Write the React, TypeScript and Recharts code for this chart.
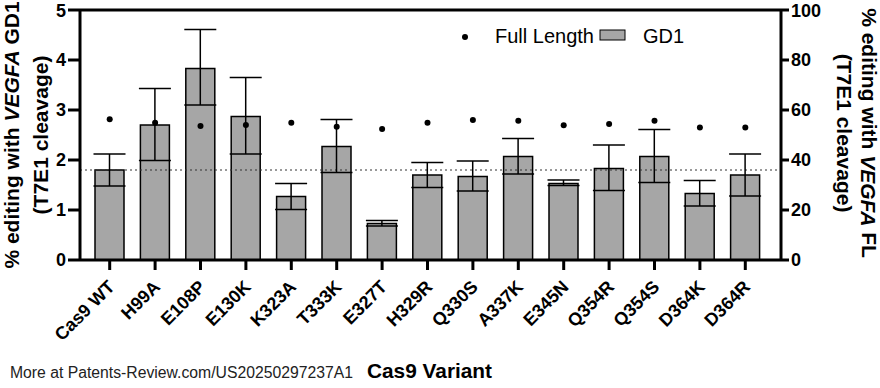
import React from 'react';
import { ComposedChart, Bar, Scatter, XAxis, YAxis, ErrorBar, ReferenceLine } from 'recharts';

const categories = ['Cas9 WT', 'H99A', 'E108P', 'E130K', 'K323A', 'T333K', 'E327T', 'H329R', 'Q330S', 'A337K', 'E345N', 'Q354R', 'Q354S', 'D364K', 'D364R'];
const gd1Mean = [1.8, 2.7, 3.83, 2.87, 1.27, 2.27, 0.73, 1.7, 1.67, 2.07, 1.53, 1.83, 2.07, 1.33, 1.7];
const gd1Low = [1.48, 1.99, 3.1, 2.12, 1.01, 1.75, 0.68, 1.45, 1.38, 1.72, 1.49, 1.39, 1.55, 1.08, 1.28];
const gd1High = [2.12, 3.43, 4.61, 3.65, 1.53, 2.81, 0.79, 1.95, 1.98, 2.43, 1.6, 2.3, 2.61, 1.59, 2.12];
const fullLength = [56.3, 54.9, 53.6, 54, 54.9, 53.3, 52.4, 54.9, 56, 55.7, 53.9, 54.4, 55.7, 53, 53];
const leftTicks = [0, 1, 2, 3, 4, 5];
const rightTicks = [0, 20, 40, 60, 80, 100];
const wtReference = 1.8;

const data = categories.map((name, i) => ({
  name,
  gd1: gd1Mean[i],
  err: [gd1Mean[i] - gd1Low[i], gd1High[i] - gd1Mean[i]],
  fl: fullLength[i],
}));

const FONT = "Arial, 'Liberation Sans', Helvetica, sans-serif";
const BAR_FILL = '#a6a6a6';

const XTick = (props: any) => {
  const { x, y, payload } = props;
  const ax = x + 6;
  const ay = y + 16;
  return (
    <text
      x={ax}
      y={ay}
      textAnchor="end"
      transform={`rotate(-45, ${ax}, ${ay})`}
      fontFamily={FONT}
      fontWeight="bold"
      fontSize={18}
      fill="#000"
    >
      {payload.value}
    </text>
  );
};

const Dot = (props: any) => {
  const { cx, cy } = props;
  return <circle cx={cx} cy={cy} r={3} fill="#000" />;
};

export default function App() {
  return (
    <div style={{ position: 'absolute', left: 0, top: 0, width: 880, height: 388, background: '#fff' }}>
      <ComposedChart
        width={880}
        height={388}
        data={data}
        margin={{ top: 10, right: 0, bottom: 0, left: 0 }}
      >
        <XAxis
          dataKey="name"
          height={128}
          padding={{ left: 7, right: 13 }}
          axisLine={{ stroke: '#000', strokeWidth: 3 }}
          tickLine={{ stroke: '#000', strokeWidth: 3 }}
          tickSize={10}
          interval={0}
          tick={<XTick />}
        />
        <YAxis
          yAxisId="left"
          domain={[0, 5]}
          ticks={leftTicks}
          width={80}
          axisLine={{ stroke: '#000', strokeWidth: 3 }}
          tickLine={{ stroke: '#000', strokeWidth: 3 }}
          tickSize={12}
          tick={{ fontFamily: FONT, fontWeight: 'bold', fontSize: 18, fill: '#000' }}
        />
        <YAxis
          yAxisId="right"
          orientation="right"
          domain={[0, 100]}
          ticks={rightTicks}
          width={99}
          axisLine={{ stroke: '#000', strokeWidth: 3 }}
          tickLine={{ stroke: '#000', strokeWidth: 3 }}
          tickSize={8}
          tick={{ fontFamily: FONT, fontWeight: 'bold', fontSize: 18, fill: '#000' }}
        />
        <ReferenceLine yAxisId="left" y={5} stroke="#000" strokeWidth={3} />
        <ReferenceLine yAxisId="left" y={wtReference} stroke="#333" strokeWidth={1} strokeDasharray="2 3" />
        <Bar
          yAxisId="left"
          dataKey="gd1"
          barSize={29}
          fill={BAR_FILL}
          stroke="#000"
          strokeWidth={1.5}
          isAnimationActive={false}
        >
          <ErrorBar dataKey="err" width={16} stroke="#000" strokeWidth={1.5} />
        </Bar>
        <Scatter
          yAxisId="right"
          dataKey="fl"
          shape={<Dot />}
          isAnimationActive={false}
        />
      </ComposedChart>
      <svg
        width={880}
        height={388}
        style={{ position: 'absolute', left: 0, top: 0, pointerEvents: 'none' }}
        fontFamily={FONT}
      >
        {/* legend */}
        <circle cx={465} cy={37} r={3} fill="#000" />
        <text x={495} y={43} fontSize={20} fill="#000">Full Length</text>
        <rect x={600} y={30} width={25} height={10} fill={BAR_FILL} stroke="#000" strokeWidth={1} />
        <text x={643} y={43} fontSize={20} fill="#000">GD1</text>

        {/* left axis title */}
        <text transform="translate(11,135) rotate(-90)" textAnchor="middle" dominantBaseline="central" fontSize={21} fontWeight="bold" fill="#000">
          % editing with <tspan fontStyle="italic">VEGFA</tspan> GD1
        </text>
        <text transform="translate(40,135) rotate(-90)" textAnchor="middle" dominantBaseline="central" fontSize={21} fontWeight="bold" fill="#000">
          (T7E1 cleavage)
        </text>

        {/* right axis title */}
        <text transform="translate(869,133) rotate(90)" textAnchor="middle" dominantBaseline="central" fontSize={21} fontWeight="bold" fill="#000">
          % editing with <tspan fontStyle="italic">VEGFA</tspan> FL
        </text>
        <text transform="translate(844,133) rotate(90)" textAnchor="middle" dominantBaseline="central" fontSize={21} fontWeight="bold" fill="#000">
          (T7E1 cleavage)
        </text>

        {/* x axis title and footer */}
        <text x={10} y={378} fontSize={16} fill="#222" textLength={343} lengthAdjust="spacingAndGlyphs">
          More at Patents-Review.com/US20250297237A1
        </text>
        <text x={367} y={378} fontSize={21} fontWeight="bold" fill="#000" textLength={125} lengthAdjust="spacingAndGlyphs">
          Cas9 Variant
        </text>
      </svg>
    </div>
  );
}
